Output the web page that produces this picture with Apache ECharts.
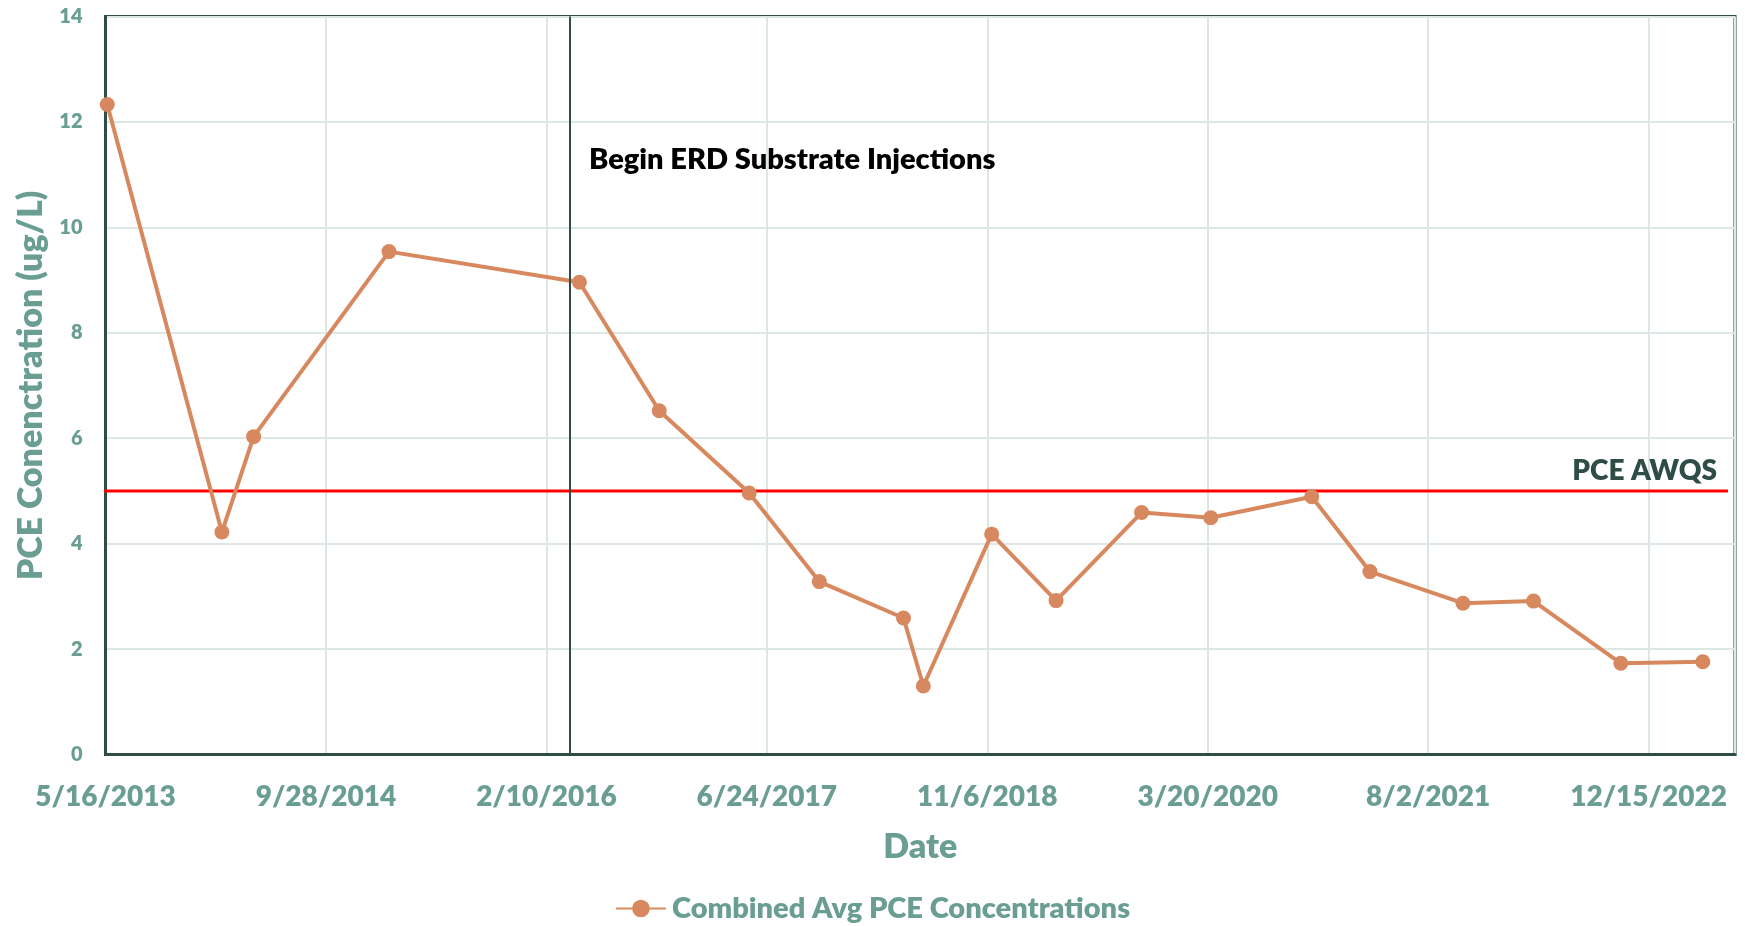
<!DOCTYPE html>
<html>
<head>
<meta charset="utf-8">
<script src="https://cdn.jsdelivr.net/npm/echarts@6/dist/echarts.min.js"></script>
<style>
html,body{margin:0;padding:0;background:#fff;}
#chart{width:1745px;height:926px;}
</style>
</head>
<body>
<div id="chart"></div>
<script>
// ---- data ----
const sampleDates = ['2013-05-20','2014-02-04','2014-04-17','2015-02-18','2016-04-25','2016-10-23','2017-05-15','2017-10-21','2018-04-30','2018-06-14','2018-11-16','2019-04-11','2019-10-22','2020-03-27','2020-11-11','2021-03-23','2021-10-20','2022-03-29','2022-10-13','2023-04-17'];
const pceValues = [12.33,4.22,6.03,9.54,8.96,6.52,4.96,3.28,2.59,1.30,4.18,2.92,4.59,4.49,4.89,3.47,2.87,2.91,1.73,1.76];
const erdStartDate = '2016-04-02';
const awqsDates = ['2013-05-04','2023-06-13'];
const awqsValues = [5,5];
const xAxisStart = '2013-05-16';
const xAxisEnd = '2023-06-29';
const xTickStepDays = 500;
const yMin = 0, yMax = 14, yStep = 2;
const seriesName = 'Combined Avg PCE Concentrations';
const xAxisTitle = 'Date';
const yAxisTitle = 'PCE Conenctration (ug/L)';
const erdLabel = 'Begin ERD Substrate Injections';
const awqsLabel = 'PCE AWQS';

// ---- helpers ----
const DAY = 86400000;
function utc(s){const p=s.split('-').map(Number);return Date.UTC(p[0],p[1]-1,p[2]);}
const origin = utc(xAxisStart);
function toDay(s){return Math.round((utc(s)-origin)/DAY);}
function fmt(day){const d=new Date(origin+day*DAY);return (d.getUTCMonth()+1)+'/'+d.getUTCDate()+'/'+d.getUTCFullYear();}

const TEAL = '#6a9e93';
const DARK = '#2f4d47';
const ORANGE = '#d8885e';
const FONT = 'Lato';
const W = 800;

const chart = echarts.init(document.getElementById('chart'));
chart.setOption({
  backgroundColor: '#ffffff',
  animation: false,
  textStyle: {fontFamily: FONT},
  grid: {
    left: 105.5, right: 10, top: 16.5, bottom: 171.5,
    show: true, borderColor: DARK, borderWidth: 3, backgroundColor: 'transparent',
    outerBoundsMode: 'none', containLabel: false
  },
  legend: {
    show: true,
    data: [seriesName],
    left: 'center',
    top: 889,
    itemWidth: 50,
    itemHeight: 22,
    itemGap: 6,
    textStyle: {color: TEAL, fontSize: 29, fontWeight: W, fontFamily: FONT, padding: [0,0,0,1]}
  },
  xAxis: {
    type: 'value',
    min: 0,
    max: toDay(xAxisEnd),
    interval: xTickStepDays,
    name: xAxisTitle,
    nameLocation: 'middle',
    nameGap: 76,
    nameTextStyle: {color: TEAL, fontSize: 34, fontWeight: W, fontFamily: FONT},
    axisLine: {show: true, lineStyle: {color: DARK, width: 3}},
    axisTick: {show: false},
    axisLabel: {
      color: TEAL, fontSize: 28, fontWeight: W, fontFamily: FONT, margin: 28,
      showMaxLabel: false,
      formatter: v => fmt(v)
    },
    splitLine: {show: true, lineStyle: {color: '#dde8e5', width: 2}}
  },
  yAxis: {
    type: 'value',
    min: yMin, max: yMax, interval: yStep,
    name: yAxisTitle,
    nameLocation: 'middle',
    nameGap: 57,
    nameTextStyle: {color: TEAL, fontSize: 34, fontWeight: W, fontFamily: FONT},
    axisLine: {show: true, lineStyle: {color: DARK, width: 3}},
    axisTick: {show: false},
    axisLabel: {color: TEAL, fontSize: 20, fontWeight: W, fontFamily: FONT, margin: 23},
    splitLine: {show: true, lineStyle: {color: '#dde8e5', width: 2}}
  },
  series: [
    {
      name: 'ERD',
      type: 'line',
      data: [],
      silent: true,
      z: 1,
      markLine: {
        silent: true,
        symbol: 'none',
        label: {show: false},
        lineStyle: {color: '#334a45', width: 2, type: 'solid'},
        data: [{xAxis: toDay(erdStartDate)}]
      }
    },
    {
      name: awqsLabel,
      type: 'line',
      clip: false,
      silent: true,
      z: 2,
      symbol: 'none',
      lineStyle: {color: '#ff0000', width: 3},
      data: awqsDates.map((d,i) => [toDay(d), awqsValues[i]])
    },
    {
      name: seriesName,
      type: 'line',
      z: 3,
      symbol: 'circle',
      symbolSize: 15,
      itemStyle: {color: ORANGE},
      lineStyle: {color: ORANGE, width: 4},
      data: sampleDates.map((d,i) => [toDay(d), pceValues[i]])
    }
  ],
  graphic: [
    {
      type: 'text', x: 589, y: 160, z: 10,
      style: {text: erdLabel, fill: '#000000', font: W + ' 29px ' + FONT, align: 'left', verticalAlign: 'middle', textAlign: 'left', textVerticalAlign: 'middle'}
    },
    {
      type: 'text', x: 1717, y: 471, z: 10,
      style: {text: awqsLabel, fill: DARK, font: W + ' 28px ' + FONT, align: 'right', verticalAlign: 'middle', textAlign: 'right', textVerticalAlign: 'middle'}
    }
  ]
});
</script>
</body>
</html>
